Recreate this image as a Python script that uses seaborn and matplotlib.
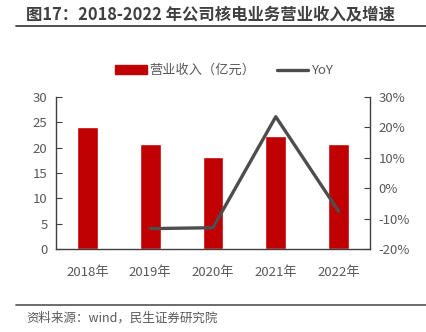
import matplotlib
matplotlib.use("Agg")
import matplotlib.pyplot as plt
import seaborn as sns
import pandas as pd
from matplotlib.lines import Line2D
from matplotlib.patches import Patch
from matplotlib.ticker import FuncFormatter

years = ["2018年", "2019年", "2020年", "2021年", "2022年"]
revenue = [24.0, 20.8, 18.1, 22.35, 20.65]          # 亿元
yoy = [None, -13.3, -13.0, 23.5, -7.6]             # %

sns.set_theme(style="white")
plt.rcParams["font.family"] = ["Noto Sans CJK SC", "DejaVu Sans"]

df = pd.DataFrame({"year": years, "revenue": revenue, "yoy": yoy})

fig = plt.figure(figsize=(4.27, 3.32), dpi=100)
ax = fig.add_axes([0.131, 0.25, 0.7355, 0.458])

BAR = "#C00000"
LINE = "#4D4D4D"
TXT = "#595959"

sns.barplot(data=df, x="year", y="revenue", color=BAR, width=0.33,
            saturation=1, ax=ax)
ax.set_xlim(-0.5, 4.5)
ax.set_ylim(0, 30)
ax.set_yticks(range(0, 31, 5))
ax.set_xlabel("")
ax.set_ylabel("")

ax2 = ax.twinx()
sub = df.dropna()
sns.lineplot(x=[years.index(y) for y in sub["year"]], y=sub["yoy"],
             color=LINE, linewidth=2.4, ax=ax2)
ax2.set_ylim(-20, 30)
ax2.set_yticks(range(-20, 31, 10))
ax2.yaxis.set_major_formatter(FuncFormatter(lambda v, p: f"{v:.0f}%"))
ax2.set_ylabel("")

for a in (ax, ax2):
    a.spines["top"].set_visible(False)
    for s in ("left", "right", "bottom"):
        a.spines[s].set_color("#404040")
        a.spines[s].set_linewidth(1.0)
    a.tick_params(axis="y", direction="in", length=4, width=0.8,
                  color="#404040", labelsize=9.5, labelcolor=TXT, pad=6)
ax.spines["right"].set_visible(False)
ax2.spines["left"].set_visible(False)
ax2.spines["bottom"].set_visible(False)
ax.tick_params(axis="y", left=True)
ax2.tick_params(axis="y", right=True)
ax.tick_params(axis="x", bottom=False, labelsize=9.5, labelcolor=TXT, pad=6)

handles = [Patch(facecolor=BAR, edgecolor=BAR),
           Line2D([0], [0], color=LINE, linewidth=2.4)]
fig.legend(handles, ["营业收入（亿元）", "YoY"], loc="center",
           bbox_to_anchor=(0.525, 0.787), ncol=2, frameon=False,
           fontsize=9.5, labelcolor=TXT, handlelength=2.4,
           handletextpad=0.2, columnspacing=1.6)

fig.text(0.061, 0.957, "图17：2018-2022 年公司核电业务营业收入及增速",
         fontsize=11.8, fontweight="bold", color="#404040", va="center")
fig.add_artist(Line2D([0.037, 1.0], [0.923, 0.923], color="#404040",
                      linewidth=1.3))
fig.add_artist(Line2D([0.037, 1.0], [0.081, 0.081], color="#606060",
                      linewidth=1.3))
fig.text(0.061, 0.042, "资料来源：wind，民生证券研究院",
         fontsize=9, color=TXT, va="center")

fig.savefig("out.png", dpi=100, facecolor="white")
